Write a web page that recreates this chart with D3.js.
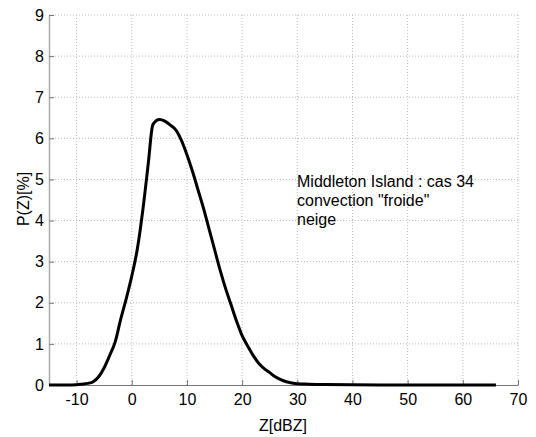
<!DOCTYPE html>
<html><head><meta charset="utf-8">
<script src="https://cdn.jsdelivr.net/npm/d3@7"></script>
<style>body{margin:0;background:#fff}svg{display:block}text{font-family:"Liberation Sans",Arial,sans-serif}</style>
</head><body><svg id="c" width="536" height="437"></svg>
<script>
const zValues = [-15,-12,-10,-9,-8,-7,-6,-5,-4,-3,-2,-1,0,1,2,3,3.75,4,5,6,7,8,9,10,11,12,13,14,15,16,17,18,19,20,21,22,23,24,25,26,27,28,29,30,32,35,40,45,50,55,60,66];
const pValues = [0,0,0.005,0.02,0.04,0.08,0.2,0.42,0.72,1.05,1.6,2.1,2.65,3.3,4.25,5.4,6.3,6.37,6.46,6.42,6.32,6.2,5.95,5.6,5.2,4.75,4.3,3.8,3.3,2.8,2.35,1.95,1.55,1.2,0.95,0.72,0.53,0.4,0.3,0.2,0.13,0.08,0.05,0.03,0.02,0.01,0.005,0.002,0,0,0,0];
const xTicks = [-10,0,10,20,30,40,50,60,70];
const yTicks = [0,1,2,3,4,5,6,7,8,9];
const annotation = ['Middleton Island : cas 34','convection "froide"','neige'];

const svg = d3.select('#c');
const L=49,R=518,T=15,B=385;
const x = d3.scaleLinear().domain([-15,70]).range([L,R]);
const y = d3.scaleLinear().domain([0,9]).range([B,T]);

// grid
const g = svg.append('g');
g.selectAll('.vx').data(xTicks).enter().append('line')
 .attr('x1',d=>x(d)).attr('x2',d=>x(d)).attr('y1',B).attr('y2',T)
 .attr('stroke','#bbb').attr('stroke-width',1).attr('stroke-dasharray','1,2');
g.selectAll('.hy').data(yTicks.filter(d=>d>0)).enter().append('line')
 .attr('x1',L).attr('x2',R).attr('y1',d=>y(d)).attr('y2',d=>y(d))
 .attr('stroke','#bbb').attr('stroke-width',1).attr('stroke-dasharray','1,2');

const fmt = d=>String(d);
// axes
const xa = svg.append('g').attr('transform',`translate(0,${B})`)
 .call(d3.axisBottom(x).tickValues(xTicks).tickFormat(fmt).tickSizeInner(-5).tickSizeOuter(0).tickPadding(9));
xa.select('.domain').attr('stroke','#777');
xa.selectAll('.tick line').attr('stroke','#777');
xa.selectAll('text').attr('font-size',16).attr('fill','#000');
const ya = svg.append('g').attr('transform',`translate(${L},0)`)
 .call(d3.axisLeft(y).tickValues(yTicks).tickFormat(fmt).tickSizeInner(-5).tickSizeOuter(0).tickPadding(5));
ya.select('.domain').attr('stroke','#aaa').attr('stroke-width',1.5);
ya.selectAll('.tick line').attr('stroke','#777');
ya.selectAll('text').attr('font-size',16).attr('fill','#000');

// curve
const data = zValues.map((z,i)=>({z,p:pValues[i]}));
svg.append('path').datum(data)
 .attr('d',d3.line().x(d=>x(d.z)).y(d=>y(d.p)).curve(d3.curveMonotoneX))
 .attr('fill','none').attr('stroke','#000').attr('stroke-width',3).attr('stroke-linejoin','round');

// labels
svg.append('text').attr('x',283).attr('y',431).attr('text-anchor','middle').attr('font-size',16).text('Z[dBZ]');
svg.append('text').attr('transform','translate(29,199) rotate(-90)').attr('text-anchor','middle').attr('font-size',16).text('P(Z)[%]');
svg.append('g').selectAll('text').data(annotation).enter().append('text')
 .attr('x',297).attr('y',(d,i)=>187+i*19).attr('font-size',16).text(d=>d);
</script></body></html>
